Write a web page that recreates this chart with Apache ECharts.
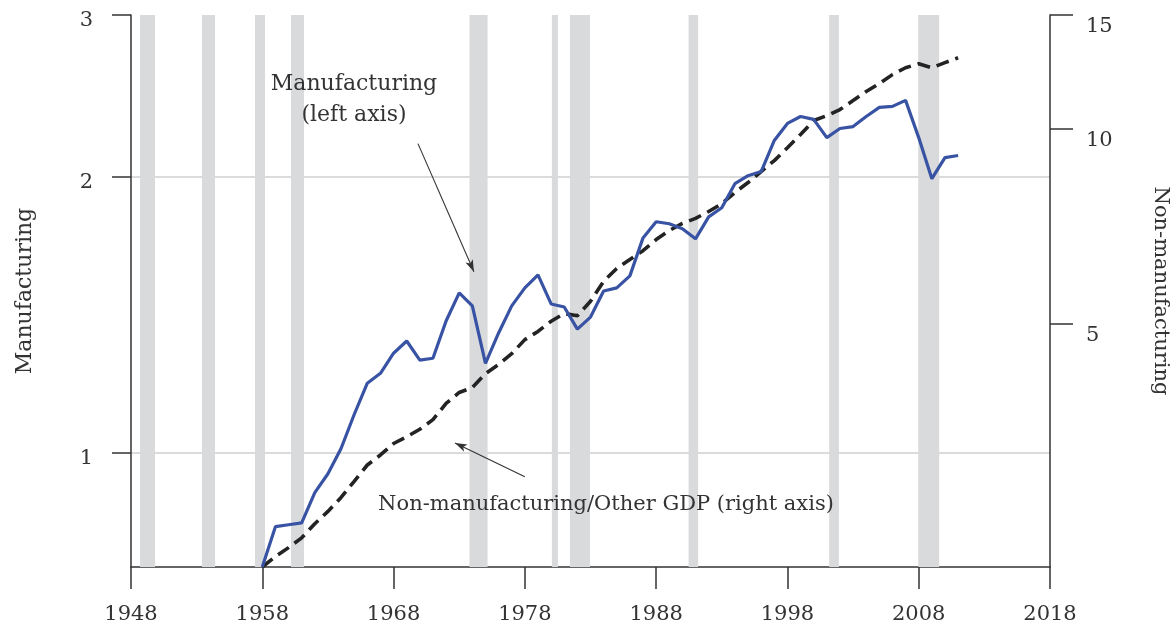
<!DOCTYPE html>
<html>
<head>
<meta charset="utf-8">
<title>Manufacturing vs non-manufacturing</title>
<script src="https://cdn.jsdelivr.net/npm/echarts@6/dist/echarts.min.js"></script>
<style>
  html, body { margin: 0; padding: 0; background: #fff; }
  #chart { width: 1174px; height: 626px; }
</style>
</head>
<body>
<div id="chart"></div>
<script>
// annual values, 1958 = start of both series
const years = [1958, 1959, 1960, 1961, 1962, 1963, 1964, 1965, 1966, 1967,
  1968, 1969, 1970, 1971, 1972, 1973, 1974, 1975, 1976, 1977,
  1978, 1979, 1980, 1981, 1982, 1983, 1984, 1985, 1986, 1987,
  1988, 1989, 1990, 1991, 1992, 1993, 1994, 1995, 1996, 1997,
  1998, 1999, 2000, 2001, 2002, 2003, 2004, 2005, 2006, 2007,
  2008, 2009, 2010, 2011]

// left axis (log)
const manufacturing = [0.75, 0.83, 0.834, 0.838, 0.904, 0.948, 1.01, 1.10, 1.19, 1.22,
  1.283, 1.323, 1.261, 1.267, 1.391, 1.493, 1.445, 1.251, 1.35, 1.445,
  1.512, 1.562, 1.452, 1.441, 1.363, 1.405, 1.50, 1.512, 1.558, 1.714,
  1.785, 1.776, 1.754, 1.71, 1.807, 1.849, 1.964, 2.004, 2.025, 2.189,
  2.285, 2.325, 2.308, 2.205, 2.256, 2.267, 2.325, 2.379, 2.385, 2.421,
  2.205, 1.989, 2.097, 2.108]

// right axis (log)
const nonManufacturing = [2.1, 2.18, 2.25, 2.33, 2.45, 2.56, 2.69, 2.85, 3.02, 3.13,
  3.26, 3.34, 3.43, 3.55, 3.76, 3.91, 3.98, 4.18, 4.32, 4.49,
  4.72, 4.86, 5.04, 5.18, 5.14, 5.41, 5.81, 6.08, 6.28, 6.48,
  6.74, 6.96, 7.14, 7.27, 7.45, 7.66, 7.97, 8.26, 8.59, 8.93,
  9.35, 9.80, 10.30, 10.48, 10.71, 11.06, 11.42, 11.75, 12.13, 12.43,
  12.61, 12.43, 12.66, 12.88]

// recessions (decimal years)
const recessionStart = [1948.69, 1953.41, 1957.44, 1960.19, 1973.78, 1980.06, 1981.44, 1990.47, 2001.18, 2007.96]
const recessionEnd = [1949.83, 1954.40, 1958.21, 1961.18, 1975.16, 1980.52, 1982.96, 1991.20, 2001.92, 2009.56]

const leftTicks = [1, 2, 3]
const rightTicks = [5, 10, 15]
const gridValues = [1, 2]

// annotation arrows, [year, left-axis value]
const arrowTails = [[1969.86, 2.172], [1978.0, 0.941]]
const arrowHeads = [[1974.12, 1.574], [1972.68, 1.024]]

const serif = "'DejaVu Serif', serif"
const textColor = "#333"
const axisColor = "#333"

const chart = echarts.init(document.getElementById("chart"))

const noteStyle = (text, size) => ({
  text: text,
  font: size + "px 'DejaVu Serif'",
  fill: textColor,
  align: "center",
  verticalAlign: "middle",
})

const option = {
  animation: false,
  grid: { left: 131, right: 124, top: 15, bottom: 59, containLabel: false, outerBoundsMode: "none" },
  xAxis: {
    type: "value",
    min: 1948,
    max: 2018,
    interval: 10,
    axisLine: { show: true, lineStyle: { color: axisColor, width: 1.5 } },
    axisTick: { show: true, length: 22, lineStyle: { color: axisColor, width: 1.5 } },
    axisLabel: { margin: 37, fontFamily: serif, fontSize: 21, color: textColor, formatter: (v) => String(v) },
    splitLine: { show: false },
  },
  yAxis: [
    {
      type: "log",
      min: 0.75,
      max: 3,
      position: "left",
      name: "Manufacturing",
      nameLocation: "middle",
      nameGap: 95,
      nameRotate: 90,
      nameTextStyle: { fontFamily: serif, fontSize: 22, color: textColor },
      axisLine: { show: true, lineStyle: { color: axisColor, width: 1.5 } },
      axisTick: { show: true, length: 19, customValues: leftTicks, lineStyle: { color: axisColor, width: 1.5 } },
      axisLabel: {
        customValues: leftTicks, margin: 38, verticalAlign: "top", lineHeight: 12,
        fontFamily: serif, fontSize: 21, color: textColor,
      },
      splitLine: { show: false },
    },
    {
      type: "log",
      min: 2.1,
      max: 15,
      position: "right",
      name: "Non-manufacturing",
      nameLocation: "middle",
      nameGap: 100,
      nameRotate: -90,
      nameTextStyle: { fontFamily: serif, fontSize: 21, color: textColor },
      axisLine: { show: true, lineStyle: { color: axisColor, width: 1.5 } },
      axisTick: { show: true, length: 23, customValues: rightTicks, lineStyle: { color: axisColor, width: 1.5 } },
      axisLabel: {
        customValues: rightTicks, margin: 36, verticalAlign: "top", lineHeight: 24,
        fontFamily: serif, fontSize: 21, color: textColor,
      },
      splitLine: { show: false },
    },
    {
      // only used for the light horizontal grid lines
      type: "log",
      min: 0.75,
      max: 3,
      position: "left",
      axisLine: { show: false },
      axisTick: { show: false, customValues: gridValues },
      axisLabel: { show: false },
      splitLine: { show: true, lineStyle: { color: "#cfcfcf", width: 1.5 } },
    },
  ],
  graphic: [
    { type: "text", z: 100, x: 354, y: 84, style: noteStyle("Manufacturing", 22) },
    { type: "text", z: 100, x: 354, y: 115, style: noteStyle("(left axis)", 22) },
    { type: "text", z: 100, x: 606, y: 505, style: noteStyle("Non-manufacturing/Other GDP (right axis)", 21) },
  ],
  series: [
    {
      name: "recessions",
      type: "line",
      data: [],
      markArea: {
        silent: true,
        itemStyle: { color: "#d9dadc", opacity: 1 },
        data: recessionStart.map((s, i) => [{ xAxis: s }, { xAxis: recessionEnd[i] }]),
      },
    },
    {
      name: "Non-manufacturing/Other GDP",
      type: "line",
      yAxisIndex: 1,
      showSymbol: false,
      symbol: "none",
      lineStyle: { color: "#232323", width: 3.6, type: [13, 7] },
      data: years.map((y, i) => [y, nonManufacturing[i]]),
    },
    {
      name: "Manufacturing",
      type: "line",
      yAxisIndex: 0,
      showSymbol: false,
      symbol: "none",
      lineStyle: { color: "#3953a4", width: 3.2 },
      data: years.map((y, i) => [y, manufacturing[i]]),
    },
    {
      name: "arrows",
      type: "line",
      yAxisIndex: 0,
      data: [],
      markLine: {
        silent: true,
        symbol: ["none", "arrow"],
        symbolSize: [6, 12],
        label: { show: false },
        lineStyle: { color: "#333", width: 1.1, type: "solid" },
        data: arrowTails.map((t, i) => [{ coord: t }, { coord: arrowHeads[i] }]),
      },
    },
  ],
}

chart.setOption(option)
window.addEventListener("resize", () => chart.resize())
</script>
</body>
</html>
